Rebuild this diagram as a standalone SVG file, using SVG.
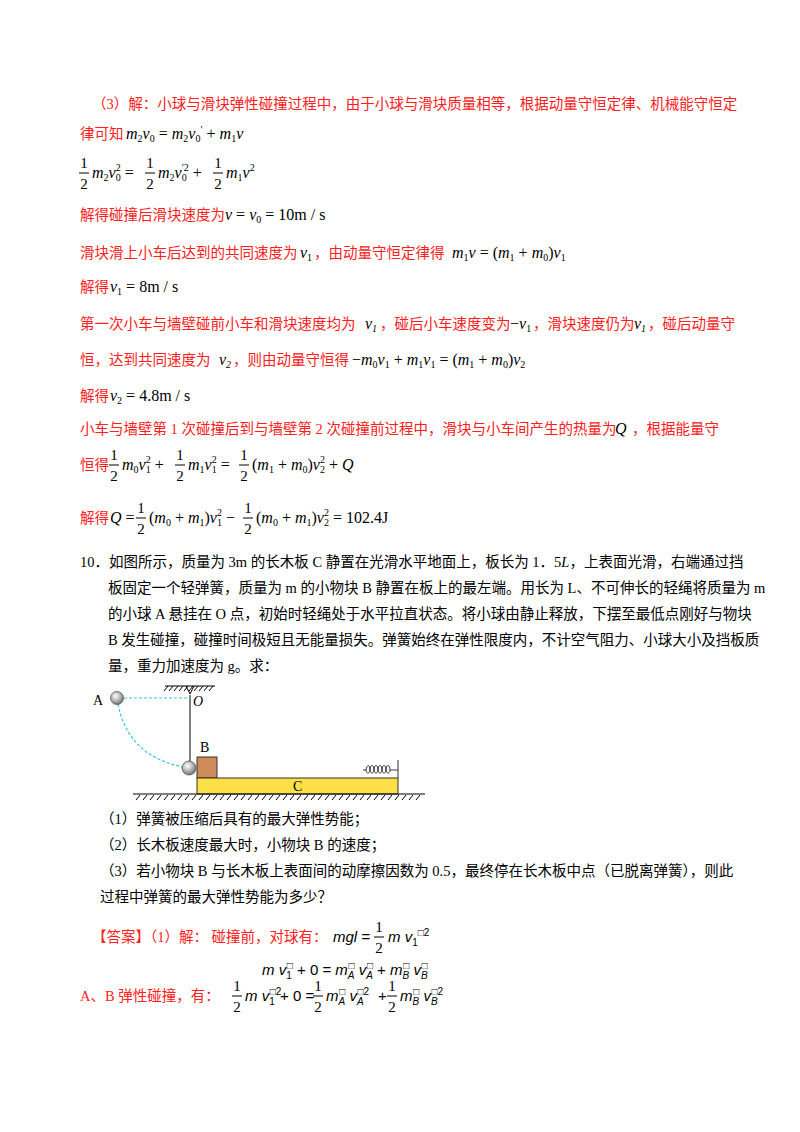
<svg xmlns="http://www.w3.org/2000/svg" width="800" height="1132" viewBox="0 0 800 1132">
<style>
text{font-family:"Liberation Serif","Noto Sans CJK SC",serif;font-size:14.5px;fill:#000}
.r{fill:#ff2020}
.m{font-family:"Liberation Serif",serif;font-size:16px}
.i{font-style:italic}
.s{font-size:10px}
.ms{font-family:"Liberation Sans",sans-serif;font-size:15px;font-style:italic}
.n{font-style:normal}
.fl{stroke:#000;stroke-width:1}
.fr{text-anchor:middle;font-family:"Liberation Serif",serif;font-size:15px}
.h{stroke:#000;stroke-width:1}
</style>
<rect width="800" height="1132" fill="#fff"/>
<g id="solution">
<text x="92" y="109" class="r">（3）解：小球与滑块弹性碰撞过程中，由于小球与滑块质量相等，根据动量守恒定律、机械能守恒定</text>
<text x="80" y="139" class="r">律可知</text>
<text x="126" y="139" class="m"><tspan class="i">m</tspan><tspan class="s" dy="3">2</tspan><tspan class="i" dy="-3">v</tspan><tspan class="s" dy="3">0</tspan><tspan dy="-3"> = </tspan><tspan class="i">m</tspan><tspan class="s" dy="3">2</tspan><tspan class="i" dy="-3">v</tspan><tspan class="s" dy="3">0</tspan><tspan class="s" dy="-9">′</tspan><tspan dy="6"> + </tspan><tspan class="i">m</tspan><tspan class="s" dy="3">1</tspan><tspan class="i" dy="-3">v</tspan></text>
<text x="84" y="168" class="fr">1</text><line x1="79" y1="173" x2="89" y2="173" class="fl"/><text x="84" y="189" class="fr">2</text>
<text x="92" y="178" class="m"><tspan class="i">m</tspan><tspan class="s" dy="3">2</tspan><tspan class="i" dy="-3">v</tspan><tspan class="s" dy="3">0</tspan><tspan class="s" dx="-5" dy="-10">2</tspan><tspan dy="7"> = </tspan></text>
<text x="150" y="168" class="fr">1</text><line x1="145" y1="173" x2="155" y2="173" class="fl"/><text x="150" y="189" class="fr">2</text>
<text x="158" y="178" class="m"><tspan class="i">m</tspan><tspan class="s" dy="3">2</tspan><tspan class="i" dy="-3">v</tspan><tspan class="s" dy="3">0</tspan><tspan class="s" dx="-5" dy="-10">′2</tspan><tspan dy="7"> + </tspan></text>
<text x="218" y="168" class="fr">1</text><line x1="213" y1="173" x2="223" y2="173" class="fl"/><text x="218" y="189" class="fr">2</text>
<text x="226" y="178" class="m"><tspan class="i">m</tspan><tspan class="s" dy="3">1</tspan><tspan class="i" dy="-3">v</tspan><tspan class="s" dy="-7">2</tspan></text>
<text x="80" y="220" class="r">解得碰撞后滑块速度为</text>
<text x="225" y="220" class="m"><tspan class="i">v</tspan> = <tspan class="i">v</tspan><tspan class="s" dy="3">0</tspan><tspan dy="-3"> = 10m / s</tspan></text>
<text x="80" y="258" class="r">滑块滑上小车后达到的共同速度为</text>
<text x="300" y="258" class="m"><tspan class="i">v</tspan><tspan class="s" dy="3">1</tspan></text>
<text x="314" y="258" class="r">，由动量守恒定律得</text>
<text x="452" y="258" class="m"><tspan class="i">m</tspan><tspan class="s" dy="3">1</tspan><tspan class="i" dy="-3">v</tspan> = (<tspan class="i">m</tspan><tspan class="s" dy="3">1</tspan><tspan dy="-3"> + </tspan><tspan class="i">m</tspan><tspan class="s" dy="3">0</tspan><tspan dy="-3">)</tspan><tspan class="i">v</tspan><tspan class="s" dy="3">1</tspan></text>
<text x="80" y="292" class="r">解得</text>
<text x="110" y="292" class="m"><tspan class="i">v</tspan><tspan class="s" dy="3">1</tspan><tspan dy="-3"> = 8m / s</tspan></text>
<text x="80" y="329" class="r">第一次小车与墙壁碰前小车和滑块速度均为</text>
<text x="365" y="329" class="m i">v<tspan class="s" dy="3">1</tspan></text>
<text x="380" y="329" class="r">，碰后小车速度变为</text>
<text x="510" y="329" class="m">−<tspan class="i">v</tspan><tspan class="s" dy="3">1</tspan></text>
<text x="533" y="329" class="r">，滑块速度仍为</text>
<text x="634" y="329" class="m i">v<tspan class="s" dy="3">1</tspan></text>
<text x="648" y="329" class="r">，碰后动量守</text>
<text x="80" y="365" class="r">恒，达到共同速度为</text>
<text x="219" y="365" class="m i">v<tspan class="s" dy="3">2</tspan></text>
<text x="233" y="365" class="r">，则由动量守恒得</text>
<text x="352" y="365" class="m">−<tspan class="i">m</tspan><tspan class="s" dy="3">0</tspan><tspan class="i" dy="-3">v</tspan><tspan class="s" dy="3">1</tspan><tspan dy="-3"> + </tspan><tspan class="i">m</tspan><tspan class="s" dy="3">1</tspan><tspan class="i" dy="-3">v</tspan><tspan class="s" dy="3">1</tspan><tspan dy="-3"> = (</tspan><tspan class="i">m</tspan><tspan class="s" dy="3">1</tspan><tspan dy="-3"> + </tspan><tspan class="i">m</tspan><tspan class="s" dy="3">0</tspan><tspan dy="-3">)</tspan><tspan class="i">v</tspan><tspan class="s" dy="3">2</tspan></text>
<text x="80" y="401" class="r">解得</text>
<text x="110" y="401" class="m"><tspan class="i">v</tspan><tspan class="s" dy="3">2</tspan><tspan dy="-3"> = 4.8m / s</tspan></text>
<text x="80" y="434" class="r">小车与墙壁第 1 次碰撞后到与墙壁第 2 次碰撞前过程中，滑块与小车间产生的热量为</text>
<text x="615" y="434" class="m i">Q</text>
<text x="632" y="434" class="r">，根据能量守</text>
<text x="80" y="470" class="r">恒得</text>
<text x="114" y="460" class="fr">1</text><line x1="109" y1="465" x2="119" y2="465" class="fl"/><text x="114" y="481" class="fr">2</text>
<text x="122" y="470" class="m"><tspan class="i">m</tspan><tspan class="s" dy="3">0</tspan><tspan class="i" dy="-3">v</tspan><tspan class="s" dy="3">1</tspan><tspan class="s" dx="-5" dy="-10">2</tspan><tspan dy="7"> + </tspan></text>
<text x="180" y="460" class="fr">1</text><line x1="175" y1="465" x2="185" y2="465" class="fl"/><text x="180" y="481" class="fr">2</text>
<text x="188" y="470" class="m"><tspan class="i">m</tspan><tspan class="s" dy="3">1</tspan><tspan class="i" dy="-3">v</tspan><tspan class="s" dy="3">1</tspan><tspan class="s" dx="-5" dy="-10">2</tspan><tspan dy="7"> = </tspan></text>
<text x="244" y="460" class="fr">1</text><line x1="239" y1="465" x2="249" y2="465" class="fl"/><text x="244" y="481" class="fr">2</text>
<text x="252" y="470" class="m">(<tspan class="i">m</tspan><tspan class="s" dy="3">1</tspan><tspan dy="-3"> + </tspan><tspan class="i">m</tspan><tspan class="s" dy="3">0</tspan><tspan dy="-3">)</tspan><tspan class="i">v</tspan><tspan class="s" dy="3">2</tspan><tspan class="s" dx="-5" dy="-10">2</tspan><tspan dy="7"> + </tspan><tspan class="i">Q</tspan></text>
<text x="80" y="523" class="r">解得</text>
<text x="110" y="523" class="m"><tspan class="i">Q</tspan> = </text>
<text x="141" y="513" class="fr">1</text><line x1="136" y1="518" x2="146" y2="518" class="fl"/><text x="141" y="534" class="fr">2</text>
<text x="149" y="523" class="m">(<tspan class="i">m</tspan><tspan class="s" dy="3">0</tspan><tspan dy="-3"> + </tspan><tspan class="i">m</tspan><tspan class="s" dy="3">1</tspan><tspan dy="-3">)</tspan><tspan class="i">v</tspan><tspan class="s" dy="3">1</tspan><tspan class="s" dx="-5" dy="-10">2</tspan><tspan dy="7"> − </tspan></text>
<text x="248" y="513" class="fr">1</text><line x1="243" y1="518" x2="253" y2="518" class="fl"/><text x="248" y="534" class="fr">2</text>
<text x="256" y="523" class="m">(<tspan class="i">m</tspan><tspan class="s" dy="3">0</tspan><tspan dy="-3"> + </tspan><tspan class="i">m</tspan><tspan class="s" dy="3">1</tspan><tspan dy="-3">)</tspan><tspan class="i">v</tspan><tspan class="s" dy="3">2</tspan><tspan class="s" dx="-5" dy="-10">2</tspan><tspan dy="7"> = 102.4J</tspan></text>
</g>
<g id="problem">
<text x="80" y="567">10．如图所示，质量为 3m 的长木板 C 静置在光滑水平地面上，板长为 1．5<tspan class="i">L</tspan>，上表面光滑，右端通过挡</text>
<text x="108" y="593">板固定一个轻弹簧，质量为 m 的小物块 B 静置在板上的最左端。用长为 L、不可伸长的轻绳将质量为 m</text>
<text x="108" y="619">的小球 A 悬挂在 O 点，初始时轻绳处于水平拉直状态。将小球由静止释放，下摆至最低点刚好与物块</text>
<text x="108" y="645">B 发生碰撞，碰撞时间极短且无能量损失。弹簧始终在弹性限度内，不计空气阻力、小球大小及挡板质</text>
<text x="108" y="671">量，重力加速度为 g。求：</text>
</g>
<g id="figure">
<defs><radialGradient id="ball" cx="0.4" cy="0.35" r="0.7"><stop offset="0" stop-color="#fff"/><stop offset="0.6" stop-color="#aaa"/><stop offset="1" stop-color="#666"/></radialGradient></defs>
<line x1="165" y1="686" x2="215" y2="686" class="h"/>
<path d="M168 686l-4 5M173 686l-4 5M178 686l-4 5M183 686l-4 5M188 686l-4 5M193 686l-4 5M198 686l-4 5M203 686l-4 5M208 686l-4 5M213 686l-4 5" class="h"/>
<path d="M186 686L190 694L194 686" fill="none" class="h"/>
<line x1="190" y1="695" x2="190" y2="762" stroke="#555" stroke-width="1.5"/>
<line x1="124" y1="698" x2="190" y2="698" stroke="#39c3ec" stroke-width="1.2" stroke-dasharray="3,2"/>
<path d="M118 704Q128 756 183 767" fill="none" stroke="#39c3ec" stroke-width="1.2" stroke-dasharray="3,2"/>
<circle cx="117" cy="698" r="6.5" fill="url(#ball)" stroke="#555" stroke-width="0.8"/>
<circle cx="189" cy="768" r="7" fill="url(#ball)" stroke="#555" stroke-width="0.8"/>
<text x="93" y="705" style="font-size:14px">A</text>
<text x="193" y="706" class="i" style="font-size:14px">O</text>
<rect x="197" y="757" width="20" height="21" fill="#cd8c5a" stroke="#333" stroke-width="1"/>
<text x="200" y="752" style="font-size:14px">B</text>
<rect x="197" y="778" width="201" height="16" fill="#fde047" stroke="#333" stroke-width="1"/>
<text x="293" y="791" style="font-size:14px">C</text>
<line x1="398" y1="760" x2="398" y2="778" stroke="#333" stroke-width="1"/>
<path d="M363 770h3c1-6 4-6 4 0c0-6 4-6 4 0c0-6 4-6 4 0c0-6 4-6 4 0c0-6 4-6 4 0c0-6 4-6 4 0c0 0 3 0 8 0M366 770c0 4 4 4 4 0M370 770c0 4 4 4 4 0M374 770c0 4 4 4 4 0M378 770c0 4 4 4 4 0M382 770c0 4 4 4 4 0M386 770c0 4 4 4 4 0" fill="none" stroke="#222" stroke-width="0.9"/>
<line x1="133" y1="794" x2="425" y2="794" stroke="#000" stroke-width="1.2"/>
<path d="M140 795l-4 5M147 795l-4 5M154 795l-4 5M161 795l-4 5M168 795l-4 5M175 795l-4 5M182 795l-4 5M189 795l-4 5M196 795l-4 5M203 795l-4 5M210 795l-4 5M217 795l-4 5M224 795l-4 5M231 795l-4 5M238 795l-4 5M245 795l-4 5M252 795l-4 5M259 795l-4 5M266 795l-4 5M273 795l-4 5M280 795l-4 5M287 795l-4 5M294 795l-4 5M301 795l-4 5M308 795l-4 5M315 795l-4 5M322 795l-4 5M329 795l-4 5M336 795l-4 5M343 795l-4 5M350 795l-4 5M357 795l-4 5M364 795l-4 5M371 795l-4 5M378 795l-4 5M385 795l-4 5M392 795l-4 5M399 795l-4 5M406 795l-4 5M413 795l-4 5M420 795l-4 5" class="h"/>
</g>
<g id="questions">
<text x="100" y="824">（1）弹簧被压缩后具有的最大弹性势能；</text>
<text x="100" y="850">（2）长木板速度最大时，小物块 B 的速度；</text>
<text x="100" y="876">（3）若小物块 B 与长木板上表面间的动摩擦因数为 0.5，最终停在长木板中点（已脱离弹簧），则此</text>
<text x="100" y="902">过程中弹簧的最大弹性势能为多少？</text>
</g>
<g id="answer">
<text x="92" y="942" class="r">【答案】（1）解：  碰撞前，对球有：</text>
<text x="333" y="942" class="ms">mgl =</text>
<text x="379" y="932" class="fr">1</text><line x1="374" y1="937" x2="384" y2="937" class="fl"/><text x="379" y="953" class="fr">2</text>
<text x="388" y="942" class="ms">m v<tspan class="s n" dy="4">1</tspan><tspan class="s n" dy="-10">□2</tspan></text>
<text x="262" y="975" class="ms">m v<tspan class="s n" dy="4">1</tspan><tspan class="s n" dx="-5" dy="-10">□</tspan><tspan class="n" dy="6"> + 0 = </tspan>m<tspan class="s" dy="4">A</tspan><tspan class="s n" dx="-6" dy="-10">□</tspan><tspan dy="6"> v</tspan><tspan class="s" dy="4">A</tspan><tspan class="s n" dx="-6" dy="-10">□</tspan><tspan class="n" dy="6"> + </tspan>m<tspan class="s" dy="4">B</tspan><tspan class="s n" dx="-6" dy="-10">□</tspan><tspan dy="6"> v</tspan><tspan class="s" dy="4">B</tspan><tspan class="s n" dx="-6" dy="-10">□</tspan></text>
<text x="80" y="1001" class="r">A、B 弹性碰撞，有：</text>
<text x="237" y="991" class="fr">1</text><line x1="232" y1="996" x2="242" y2="996" class="fl"/><text x="237" y="1012" class="fr">2</text>
<text x="245" y="1001" class="ms">m v<tspan class="s n" dy="4">1</tspan><tspan class="s n" dx="-5" dy="-10">□2</tspan></text>
<text x="280" y="1001" class="ms n">+ 0 =</text>
<text x="318" y="991" class="fr">1</text><line x1="313" y1="996" x2="323" y2="996" class="fl"/><text x="318" y="1012" class="fr">2</text>
<text x="326" y="1001" class="ms">m<tspan class="s" dy="4">A</tspan><tspan class="s n" dx="-6" dy="-10">□</tspan><tspan dy="6"> v</tspan><tspan class="s" dy="4">A</tspan><tspan class="s n" dx="-6" dy="-10">□2</tspan></text>
<text x="378" y="1001" class="ms n">+</text>
<text x="392" y="991" class="fr">1</text><line x1="387" y1="996" x2="397" y2="996" class="fl"/><text x="392" y="1012" class="fr">2</text>
<text x="400" y="1001" class="ms">m<tspan class="s" dy="4">B</tspan><tspan class="s n" dx="-6" dy="-10">□</tspan><tspan dy="6"> v</tspan><tspan class="s" dy="4">B</tspan><tspan class="s n" dx="-6" dy="-10">□2</tspan></text>
</g>
</svg>
